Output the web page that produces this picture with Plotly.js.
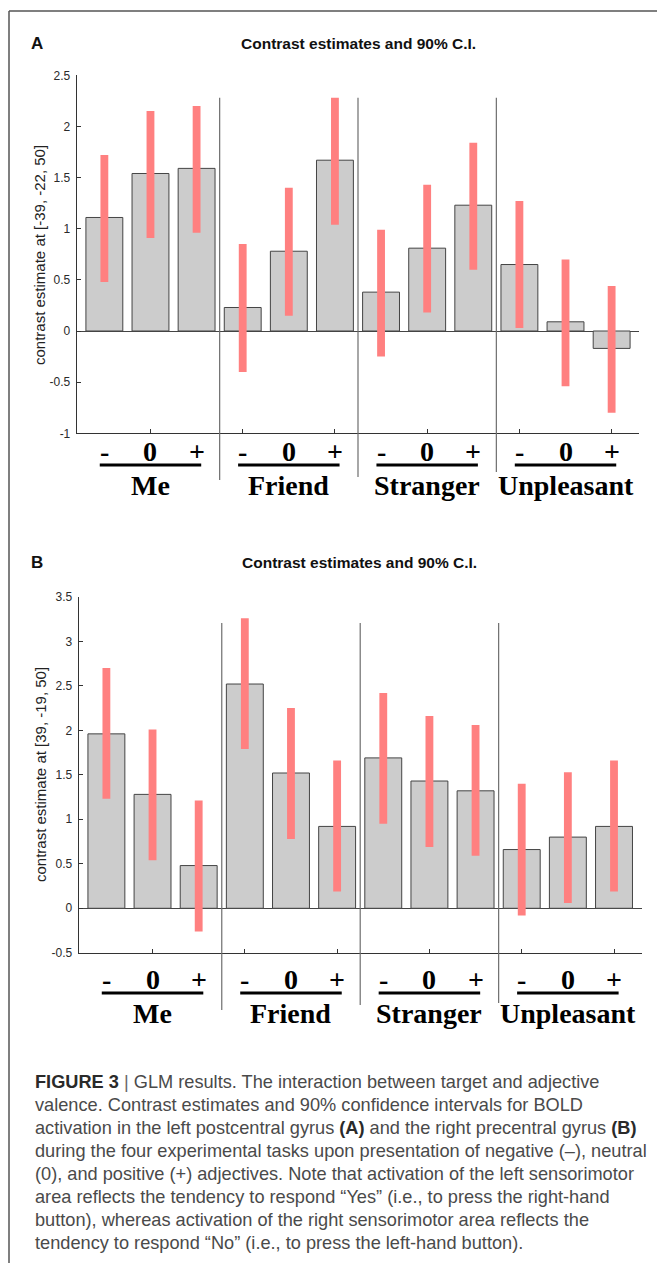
<!DOCTYPE html>
<html>
<head>
<meta charset="utf-8">
<script src="https://cdn.plot.ly/plotly-3.0.1.min.js"></script>
<style>
  html, body { margin: 0; padding: 0; background: #fff; }
  #wrap { position: relative; width: 657px; height: 1263px; overflow: hidden; }
  #chart { position: absolute; left: 0; top: 0; width: 657px; height: 1263px; }
  #caption {
    position: absolute; left: 35px; top: 1071px; width: 620px;
    font-family: "Liberation Sans", Arial, sans-serif; font-size: 18.2px;
    line-height: 23px; color: #4a4a4a; white-space: nowrap;
  }
  #caption b { color: #2a2a2a; }
  #caption .bar { color: #666; }
</style>
</head>
<body>
<div id="wrap">
  <div id="chart"></div>
  <div id="caption">
    <b>FIGURE 3</b> <span class="bar">|</span> GLM results. The interaction between target and adjective<br>
    valence. Contrast estimates and 90% confidence intervals for BOLD<br>
    activation in the left postcentral gyrus <b>(A)</b> and the right precentral gyrus <b>(B)</b><br>
    during the four experimental tasks upon presentation of negative (&#8211;), neutral<br>
    (0), and positive (+) adjectives. Note that activation of the left sensorimotor<br>
    area reflects the tendency to respond &#8220;Yes&#8221; (i.e., to press the right-hand<br>
    button), whereas activation of the right sensorimotor area reflects the<br>
    tendency to respond &#8220;No&#8221; (i.e., to press the left-hand button).
  </div>
</div>
<script>
// ---- data ----
var targets = ['Me', 'Friend', 'Stranger', 'Unpleasant'];
var valences = ['-', '0', '+'];

var estA    = [1.11, 1.54, 1.59, 0.23, 0.78, 1.67, 0.38, 0.81, 1.23, 0.65, 0.09, -0.17];
var ciLowA  = [0.48, 0.91, 0.96, -0.40, 0.15, 1.04, -0.25, 0.18, 0.60, 0.03, -0.54, -0.80];
var ciHighA = [1.72, 2.15, 2.20, 0.85, 1.40, 2.28, 0.99, 1.43, 1.84, 1.27, 0.70, 0.44];

var estB    = [1.96, 1.28, 0.48, 2.52, 1.52, 0.92, 1.69, 1.43, 1.32, 0.66, 0.80, 0.92];
var ciLowB  = [1.23, 0.54, -0.26, 1.79, 0.78, 0.19, 0.95, 0.69, 0.59, -0.08, 0.06, 0.19];
var ciHighB = [2.70, 2.01, 1.21, 3.26, 2.25, 1.66, 2.42, 2.16, 2.06, 1.40, 1.53, 1.66];

var yTickValsA = [-1, -0.5, 0, 0.5, 1, 1.5, 2, 2.5];
var yTickTextA = ['-1', '-0.5', '0', '0.5', '1', '1.5', '2', '2.5'];
var yTickValsB = [-0.5, 0, 0.5, 1, 1.5, 2, 2.5, 3, 3.5];
var yTickTextB = ['-0.5', '0', '0.5', '1', '1.5', '2', '2.5', '3', '3.5'];
var xTickVals  = [2, 4, 6, 8, 10, 12];

var titleText = 'Contrast estimates and 90% C.I.';
var yTitleA = 'contrast estimate at [-39, -22, 50]';
var yTitleB = 'contrast estimate at [39, -19, 50]';

// ---- build ----
var H = 1263, W = 657;
function py(p) { return (H - p) / H; }   // pixel-from-top -> paper y
function px(p) { return p / W; }

var pos = [];
targets.forEach(function (t, g) { valences.forEach(function (v, k) { pos.push(g * 3 + k + 1); }); });

function diff(hi, lo) { return hi.map(function (h, i) { return h - lo[i]; }); }

var grey = { color: '#cccccc', line: { color: '#444444', width: 1 } };
var red = { color: '#ff8080', line: { width: 0 } };

var traces = [
  { type: 'bar', x: pos, y: estA, width: 0.8, marker: grey, xaxis: 'x', yaxis: 'y', hoverinfo: 'skip' },
  { type: 'bar', x: pos, y: diff(ciHighA, ciLowA), base: ciLowA, width: 0.17, marker: red, xaxis: 'x', yaxis: 'y', hoverinfo: 'skip' },
  { type: 'bar', x: pos, y: estB, width: 0.8, marker: grey, xaxis: 'x2', yaxis: 'y2', hoverinfo: 'skip' },
  { type: 'bar', x: pos, y: diff(ciHighB, ciLowB), base: ciLowB, width: 0.17, marker: red, xaxis: 'x2', yaxis: 'y2', hoverinfo: 'skip' }
];

var tickFont = { family: 'Liberation Sans, Arial, sans-serif', size: 12, color: '#2a2a2a' };

function xAxis(domain, anchor) {
  return {
    domain: domain, anchor: anchor, range: [0.4, 12.6],
    showgrid: false, zeroline: false, showline: true, linecolor: '#333', linewidth: 1,
    ticks: 'inside', ticklen: 4, tickcolor: '#333', tickvals: xTickVals, showticklabels: false,
    fixedrange: true
  };
}
function yAxis(domain, anchor, range, tv, tt) {
  return {
    domain: domain, anchor: anchor, range: range,
    showgrid: false, zeroline: true, zerolinecolor: '#444', zerolinewidth: 1,
    showline: true, linecolor: '#333', linewidth: 1,
    ticks: 'inside', ticklen: 4, tickcolor: '#333',
    tickvals: tv, ticktext: tt, tickfont: tickFont, ticklabelstandoff: 3,
    fixedrange: true
  };
}

var shapes = [];
var annotations = [];

// frame
shapes.push({ type: 'line', xref: 'paper', yref: 'paper', x0: px(9), x1: 1, y0: py(11), y1: py(11), line: { color: '#555', width: 1.5 } });
shapes.push({ type: 'line', xref: 'paper', yref: 'paper', x0: px(9), x1: px(9), y0: py(11), y1: 0, line: { color: '#555', width: 1.5 } });

var serifBold = { family: 'Liberation Serif, Times New Roman, serif', size: 28, color: '#000', weight: 'bold' };

function panel(xr, topPx, bottomsPx, signPx, linePx, groupPx) {
  [3.5, 6.5, 9.5].forEach(function (s, i) {
    shapes.push({ type: 'line', xref: xr, yref: 'paper', x0: s, x1: s, y0: py(topPx), y1: py(bottomsPx[i]),
      line: { color: '#6e6e6e', width: 1.2 } });
  });
  targets.forEach(function (t, g) {
    var c = g * 3 + 2;
    shapes.push({ type: 'line', xref: xr, yref: 'paper', x0: c - 1.1, x1: c + 1.1, y0: py(linePx), y1: py(linePx),
      line: { color: '#000', width: 3 } });
    annotations.push({ xref: xr, yref: 'paper', x: c, y: py(groupPx), text: t, showarrow: false,
      xanchor: 'center', yanchor: 'middle', font: serifBold });
    valences.forEach(function (v, k) {
      annotations.push({ xref: xr, yref: 'paper', x: g * 3 + k + 1, y: py(signPx), text: v, showarrow: false,
        xanchor: 'center', yanchor: 'middle', font: serifBold });
    });
  });
}
panel('x', 97.7, [480, 477, 472], 451, 465, 485);
panel('x2', 623, [1010, 1005, 1003], 979, 993, 1013);

var titleFont = { family: 'Liberation Sans, Arial, sans-serif', size: 15.5, color: '#111', weight: 'bold' };
var letterFont = { family: 'Liberation Sans, Arial, sans-serif', size: 17, color: '#111', weight: 'bold' };
var yTitleFont = { family: 'Liberation Sans, Arial, sans-serif', size: 15, color: '#222' };

annotations.push({ xref: 'paper', yref: 'paper', x: px(37), y: py(43.3), text: 'A', showarrow: false, xanchor: 'center', yanchor: 'middle', font: letterFont });
annotations.push({ xref: 'paper', yref: 'paper', x: px(358), y: py(43.3), text: titleText, showarrow: false, xanchor: 'center', yanchor: 'middle', font: titleFont });
annotations.push({ xref: 'paper', yref: 'paper', x: px(37), y: py(562), text: 'B', showarrow: false, xanchor: 'center', yanchor: 'middle', font: letterFont });
annotations.push({ xref: 'paper', yref: 'paper', x: px(359.7), y: py(562), text: titleText, showarrow: false, xanchor: 'center', yanchor: 'middle', font: titleFont });
annotations.push({ xref: 'paper', yref: 'paper', x: px(39), y: py(255), text: yTitleA, textangle: -90, showarrow: false, xanchor: 'center', yanchor: 'middle', font: yTitleFont });
annotations.push({ xref: 'paper', yref: 'paper', x: px(40), y: py(775), text: yTitleB, textangle: -90, showarrow: false, xanchor: 'center', yanchor: 'middle', font: yTitleFont });

var layout = {
  width: W, height: H, margin: { l: 0, r: 0, t: 0, b: 0 },
  paper_bgcolor: '#fff', plot_bgcolor: 'rgba(0,0,0,0)',
  showlegend: false, barmode: 'overlay',
  xaxis: xAxis([0.11674, 0.97306], 'y'),
  yaxis: yAxis([0.65693, 0.94038], 'x', [-1, 2.5], yTickValsA, yTickTextA),
  xaxis2: xAxis([0.11979, 0.97671], 'y2'),
  yaxis2: yAxis([0.24561, 0.52747], 'x2', [-0.5, 3.5], yTickValsB, yTickTextB),
  shapes: shapes, annotations: annotations
};

Plotly.newPlot('chart', traces, layout, { staticPlot: true, displayModeBar: false });
</script>
</body>
</html>
